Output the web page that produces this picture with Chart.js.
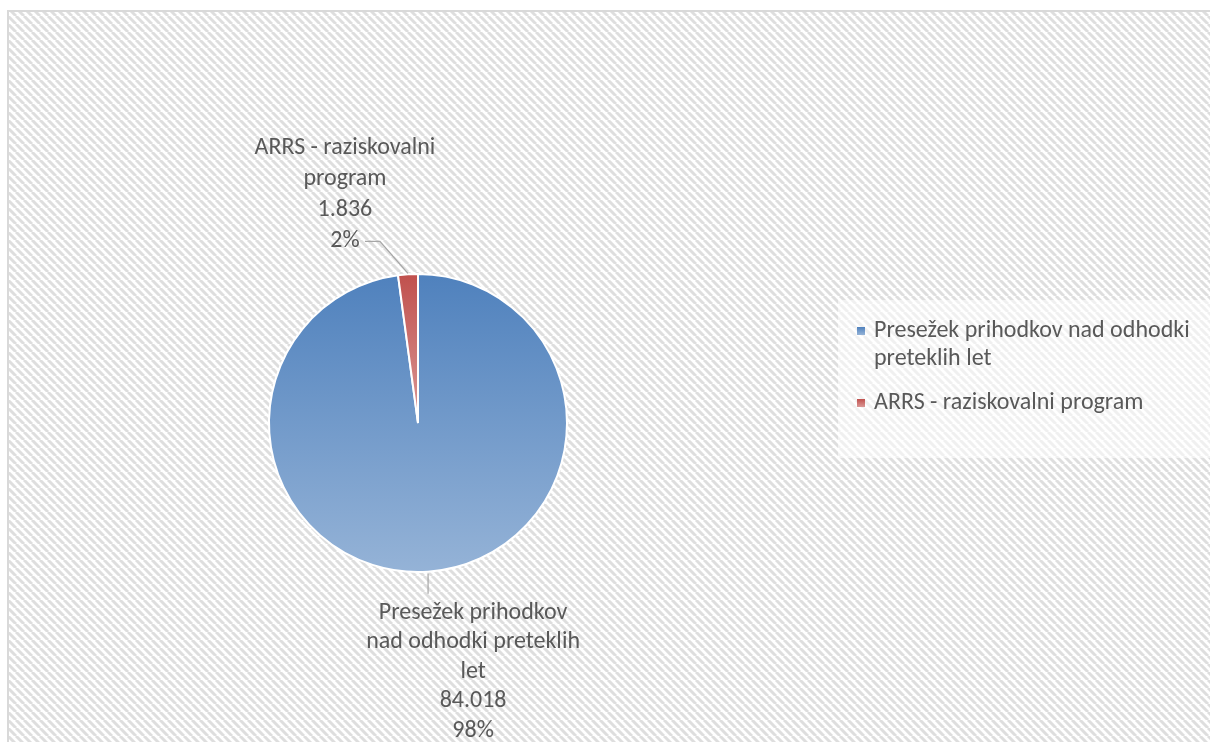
<!DOCTYPE html>
<html>
<head>
<meta charset="utf-8">
<script src="https://cdn.jsdelivr.net/npm/chart.js@4/dist/chart.umd.min.js"></script>
<style>
  html, body { margin: 0; padding: 0; background: #fff; }
  #wrap { width: 1210px; height: 742px; position: relative; }
</style>
</head>
<body>
<div id="wrap"><canvas id="pieChart" width="1210" height="742"></canvas></div>
<script>
// chart data
const labels = ["Presežek prihodkov nad odhodki preteklih let", "ARRS - raziskovalni program"];
const values = [84018, 1836];
// top / bottom colours of each slice's gradient
const topColors = ["#4F81BD", "#C0504D"];
const bottomColors = ["#95B3D7", "#DA9896"];

const FONT = "24px Carlito, Calibri, Lato, sans-serif";
const TEXT_COLOR = "#595959";

// 84018 -> "84.018"
function fmt(v) {
  return String(v).replace(/\B(?=(\d{3})+(?!\d))/g, ".");
}

function wrap(ctx, text, maxWidth) {
  const words = text.split(" ");
  const lines = [];
  let line = "";
  words.forEach((w) => {
    const test = line ? line + " " + w : w;
    if (ctx.measureText(test).width > maxWidth && line) {
      lines.push(line);
      line = w;
    } else {
      line = test;
    }
  });
  if (line) lines.push(line);
  return lines;
}

// diagonal hatch used for the chart background
function makeHatch() {
  const c = document.createElement("canvas");
  c.width = 8;
  c.height = 8;
  const g = c.getContext("2d");
  g.fillStyle = "#ffffff";
  g.fillRect(0, 0, 8, 8);
  g.strokeStyle = "#dedede";
  g.lineWidth = 3;
  [-8, 0, 8].forEach((x0) => {
    g.beginPath();
    g.moveTo(x0, 0);
    g.lineTo(x0 + 8, 8);
    g.stroke();
  });
  return g.createPattern(c, "repeat");
}

function sliceGradient(chart, i, top, bottom) {
  const g = chart.ctx.createLinearGradient(0, top, 0, bottom);
  g.addColorStop(0, topColors[i]);
  g.addColorStop(1, bottomColors[i]);
  return g;
}

const backgroundPlugin = {
  id: "background",
  beforeDraw(chart) {
    const ctx = chart.ctx;
    ctx.save();
    ctx.fillStyle = "#ffffff";
    ctx.fillRect(0, 0, chart.width, chart.height);
    ctx.fillStyle = makeHatch();
    ctx.fillRect(8, 11, chart.width, chart.height);
    ctx.strokeStyle = "#d9d9d9";
    ctx.lineWidth = 2;
    ctx.strokeRect(8, 11, chart.width + 10, chart.height + 10);
    // legend box
    ctx.fillStyle = "rgba(255,255,255,0.55)";
    ctx.fillRect(838, 300, chart.width - 838, 158);
    ctx.restore();
  },
};

// outside data labels with leader lines, Excel style
const labelPlugin = {
  id: "sliceLabels",
  afterDatasetsDraw(chart) {
    const ctx = chart.ctx;
    const meta = chart.getDatasetMeta(0);
    const total = values.reduce((a, b) => a + b, 0);
    ctx.save();
    ctx.font = FONT;
    ctx.fillStyle = TEXT_COLOR;
    ctx.textAlign = "center";
    ctx.textBaseline = "middle";
    ctx.strokeStyle = "#a6a6a6";
    ctx.lineWidth = 1.2;
    meta.data.forEach((arc, i) => {
      const p = arc.getProps(["x", "y", "startAngle", "endAngle", "outerRadius"], true);
      const mid = (p.startAngle + p.endAngle) / 2;
      const ex = p.x + Math.cos(mid) * (p.outerRadius + 1);
      const ey = p.y + Math.sin(mid) * (p.outerRadius + 1);
      const lines = wrap(ctx, labels[i], 222);
      lines.push(fmt(values[i]));
      lines.push(Math.round((values[i] / total) * 100) + "%");
      if (Math.sin(mid) > 0) {
        // label below the pie
        ctx.beginPath();
        ctx.moveTo(ex, ey + 1);
        ctx.lineTo(ex, ey + 21);
        ctx.stroke();
        const cx = ex + 45;
        const y0 = ey + 40;
        lines.forEach((t, k) => ctx.fillText(t, cx, y0 + k * 29.5));
      } else {
        // label above-left of the pie
        const bx = ex - 28;
        const by = ey - 32;
        ctx.beginPath();
        ctx.moveTo(ex, ey);
        ctx.lineTo(bx, by);
        ctx.lineTo(bx - 15, by);
        ctx.stroke();
        const cx = bx - 35;
        lines.forEach((t, k) => ctx.fillText(t, cx, by - (lines.length - 1 - k) * 31));
      }
    });
    ctx.restore();
  },
};

// legend on the right, wrapped like the original
const legendPlugin = {
  id: "sideLegend",
  afterDraw(chart) {
    const ctx = chart.ctx;
    ctx.save();
    ctx.font = FONT;
    ctx.textAlign = "left";
    ctx.textBaseline = "middle";
    let y = 331;
    labels.forEach((lab, i) => {
      const g = ctx.createLinearGradient(0, y - 4, 0, y + 4);
      g.addColorStop(0, topColors[i]);
      g.addColorStop(1, bottomColors[i]);
      ctx.fillStyle = g;
      ctx.fillRect(857, y - 4, 8, 8);
      ctx.fillStyle = TEXT_COLOR;
      const lines = wrap(ctx, lab, 335);
      lines.forEach((t, k) => ctx.fillText(t, 874, y + k * 28));
      y += lines.length * 28 + 16;
    });
    ctx.restore();
  },
};

new Chart(document.getElementById("pieChart"), {
  type: "pie",
  data: {
    labels: labels,
    datasets: [
      {
        data: values,
        backgroundColor: (c) => {
          const area = c.chart.chartArea;
          if (!area) return topColors[c.dataIndex];
          const mid = (area.top + area.bottom) / 2;
          return c.dataIndex === 0
            ? sliceGradient(c.chart, 0, area.top, area.bottom)
            : sliceGradient(c.chart, 1, area.top, mid);
        },
        borderColor: "#ffffff",
        borderWidth: 2,
      },
    ],
  },
  options: {
    responsive: false,
    animation: false,
    layout: {
      padding: { left: 268, right: 642, top: 273, bottom: 169 },
    },
    plugins: {
      legend: { display: false },
      tooltip: { enabled: false },
    },
  },
  plugins: [backgroundPlugin, labelPlugin, legendPlugin],
});
</script>
</body>
</html>
